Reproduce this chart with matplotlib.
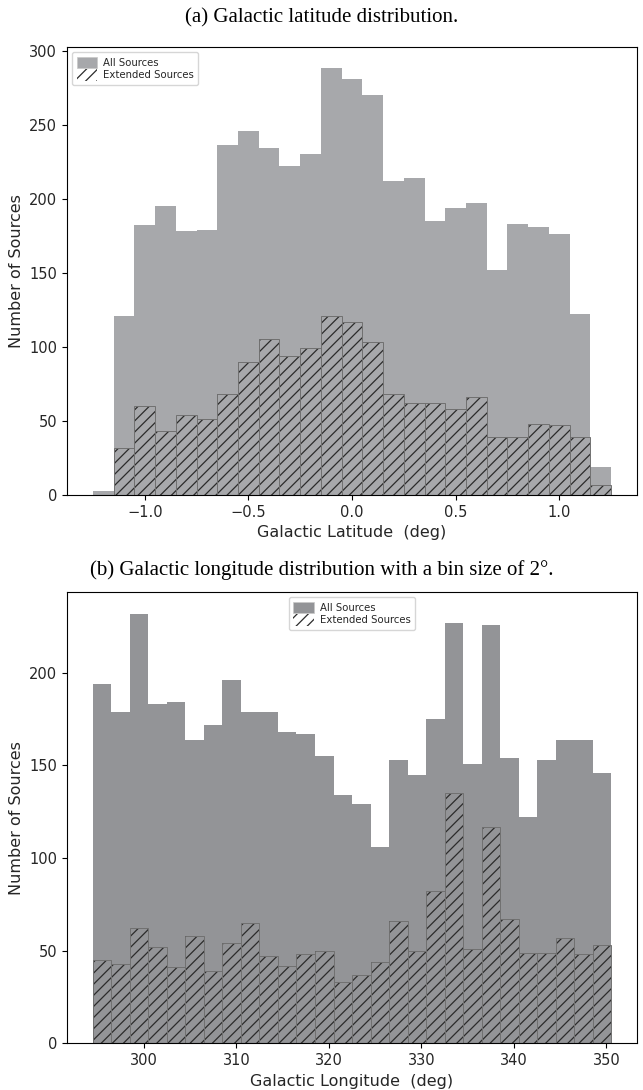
import numpy as np
import matplotlib
matplotlib.use("Agg")
import matplotlib.pyplot as plt
from matplotlib.patches import Patch

# (a) Galactic latitude, 0.1 deg bins
lat_edges = np.linspace(-1.25, 1.25, 26)
lat_all = [3, 121, 182, 195, 178, 179, 236, 246, 234, 222, 230, 288, 281,
           270, 212, 214, 185, 194, 197, 152, 183, 181, 176, 122, 19]
lat_ext = [0, 32, 60, 43, 54, 51, 68, 90, 105, 94, 99, 121, 117,
           103, 68, 62, 62, 58, 66, 39, 39, 48, 47, 39, 7]

# (b) Galactic longitude, 2 deg bins
lon_edges = np.arange(294.5, 351.0, 2.0)
lon_all = [194, 179, 232, 183, 184, 164, 172, 196, 179, 179, 168, 167, 155, 134,
           129, 106, 153, 145, 175, 227, 151, 226, 154, 122, 153, 164, 164, 146]
lon_ext = [45, 43, 62, 52, 41, 58, 39, 54, 65, 47, 42, 48, 50, 33,
           37, 44, 66, 50, 82, 135, 51, 117, 67, 49, 49, 57, 48, 53]

plt.rcParams['hatch.linewidth'] = 0.9
serif = ['Liberation Serif', 'DejaVu Serif']

fig = plt.figure(figsize=(6.43, 10.9), dpi=100)
ax1 = fig.add_axes([0.1042, 0.5459, 0.8865, 0.411])
ax2 = fig.add_axes([0.1042, 0.0428, 0.8865, 0.414])


def draw(ax, edges, all_counts, ext_counts, fill, xlabel, loc):
    w = np.diff(edges)
    ax.bar(edges[:-1], all_counts, width=w, align='edge', color=fill,
           linewidth=0)
    ax.bar(edges[:-1], ext_counts, width=w, align='edge', fill=False,
           hatch='///', edgecolor='#2b2b2b', linewidth=0)
    ax.bar(edges[:-1], ext_counts, width=w, align='edge', fill=False,
           edgecolor='#707070', linewidth=0.7)
    ax.set_ylabel('Number of Sources', fontsize=11.5, color='#262626')
    ax.set_xlabel(xlabel, fontsize=11.5, color='#262626')
    ax.tick_params(labelsize=10.5, labelcolor='#262626', length=3.5)
    handles = [Patch(facecolor=fill, edgecolor='#c8c8c8', linewidth=0.5),
               Patch(facecolor='none', edgecolor='#2b2b2b', hatch='///',
                     linewidth=0)]
    leg = ax.legend(handles, ['All Sources', 'Extended Sources'], loc=loc,
                    fontsize=7.3, handleheight=1.4, labelspacing=0.05,
                    handletextpad=0.6, borderpad=0.45)
    for t in leg.get_texts():
        t.set_color('#262626')


draw(ax1, lat_edges, lat_all, lat_ext, '#a7a8ab',
     'Galactic Latitude  (deg)', 'upper left')
ax1.set_yticks([0, 50, 100, 150, 200, 250, 300])
ax1.set_xticks([-1.0, -0.5, 0.0, 0.5, 1.0])

draw(ax2, lon_edges, lon_all, lon_ext, '#939497',
     'Galactic Longitude  (deg)', 'upper center')
ax2.set_yticks([0, 50, 100, 150, 200])
ax2.set_xticks([300, 310, 320, 330, 340, 350])

fig.text(0.5, 0.9835, '(a) Galactic latitude distribution.', ha='center',
         va='center', fontsize=15, family=serif)
fig.text(0.5, 0.477, '(b) Galactic longitude distribution with a bin size of 2°.',
         ha='center', va='center', fontsize=15, family=serif)

fig.savefig('out.png', dpi=100)
